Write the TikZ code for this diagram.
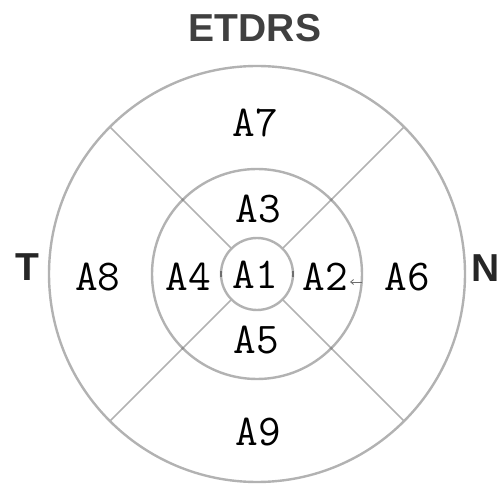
\documentclass[tikz,border=0pt]{standalone}
\usepackage{fontspec}
\setsansfont{Liberation Sans}
\usetikzlibrary{calc,arrows.meta}
\definecolor{ringgray}{RGB}{178,178,178}
\definecolor{tickgray}{RGB}{110,110,110}
\tikzset{
  ring/.style={draw=ringgray, line width=2.4pt},
  spoke/.style={draw=ringgray, line width=1.5pt},
  zone/.style={font=\ttfamily\fontsize{44}{44}\selectfont, inner sep=0pt, text=black},
  side/.style={font=\sffamily\bfseries\fontsize{39}{39}\selectfont, inner sep=0pt, text=black!85},
  title/.style={font=\sffamily\bfseries\fontsize{39}{39}\selectfont, inner sep=0pt, text=black!75},
}
\begin{document}
\begin{tikzpicture}[x=1pt,y=-1pt]
\useasboundingbox (0,0) rectangle (499,484);
\coordinate (c) at (257,274);
% rings
\draw[ring] (c) circle[radius=208];
\draw[ring] (c) circle[radius=105];
\draw[ring] (c) circle[radius=36];
% spokes
\foreach \a in {45,135,225,315}{
  \coordinate (s\a) at ($(c)+(\a:36)$);
  \coordinate (e\a) at ($(c)+(\a:208)$);
  \draw[spoke] (s\a) -- (e\a);
  \fill[ringgray!80!black] ($(c)+(\a:105)$) circle[radius=1.6];
}
% small ticks on inner ring
\coordinate (tl1) at ($(c)+(-36,-3)$);
\coordinate (tl2) at ($(c)+(-36,3)$);
\coordinate (tr1) at ($(c)+(36,-3)$);
\coordinate (tr2) at ($(c)+(36,3)$);
\draw[tickgray, line width=1.4pt] (tl1) -- (tl2);
\draw[tickgray, line width=1.4pt] (tr1) -- (tr2);
% tiny arrow near A2
\coordinate (ar1) at (362,282);
\coordinate (ar2) at (350,282);
\draw[tickgray, line width=0.8pt, -{Straight Barb[length=3pt,width=5pt]}] (ar1) -- (ar2);
% labels
\node[title] (ttl) at (255,28) {ETDRS};
\node[side] (T) at (27,267) {T};
\node[side] (N) at (486,268) {N};
\node[zone] (A1) at (255,275) {A1};
\node[zone] (A2) at (325,277) {A2};
\node[zone] (A3) at (258,209) {A3};
\node[zone] (A4) at (188,277) {A4};
\node[zone] (A5) at (256,340) {A5};
\node[zone] (A6) at (407,277) {A6};
\node[zone] (A7) at (255,123) {A7};
\node[zone] (A8) at (98,277) {A8};
\node[zone] (A9) at (258,432) {A9};
\end{tikzpicture}
\end{document}
